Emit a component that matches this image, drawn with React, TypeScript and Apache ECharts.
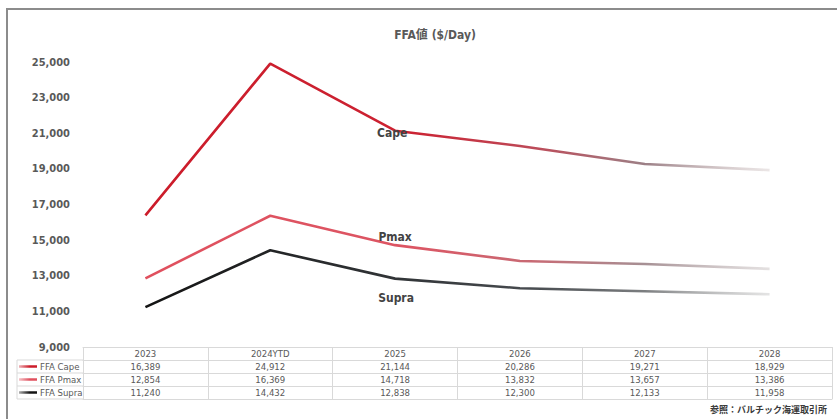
import { useEffect, useRef } from 'react';
import * as echarts from 'echarts';

// FFA forward values by year ($/Day)
const categories = ['2023', '2024YTD', '2025', '2026', '2027', '2028'];
const capeValues = [16389, 24912, 21144, 20286, 19271, 18929];
const pmaxValues = [12854, 16369, 14718, 13832, 13657, 13386];
const supraValues = [11240, 14432, 12838, 12300, 12133, 11958];
const seriesNames = ['FFA Cape', 'FFA Pmax', 'FFA Supra'];
const inlineNames = ['Cape', 'Pmax', 'Supra'];
const yMin = 9000;
const yMax = 25000;
const yStep = 2000;
const titleText = 'FFA値 ($/Day)';
const sourceText = '参照：バルチック海運取引所';

const FONT = '"DejaVu Sans Condensed", "DejaVu Sans", "Noto Sans CJK JP", sans-serif';
const CJK = '"Noto Sans CJK JP", "DejaVu Sans", sans-serif';
const TEXT = '#595959';
const TABLE_LINE = '#d9d9d9';
const ROW_H = 13;
const LABEL_INDEX = 2;

const fmt = (v: number) => v.toLocaleString('en-US');

const fade = (stops: [number, string][]) =>
  new echarts.graphic.LinearGradient(
    0, 0, 1, 0,
    stops.map(([offset, color]) => ({ offset, color }))
  );

const lineColors = [
  fade([[0, '#cc1c2a'], [0.42, '#cc2232'], [0.62, '#bd4a58'], [0.8, '#9c8086'], [1, 'rgba(215,205,205,0.5)']]),
  fade([[0, '#e0505e'], [0.42, '#dc5563'], [0.62, '#c86a74'], [0.8, '#a69094'], [1, 'rgba(210,205,205,0.6)']]),
  fade([[0, '#141414'], [0.42, '#333639'], [0.62, '#484c50'], [0.8, '#7c7e80'], [1, 'rgba(210,210,210,0.6)']]),
];

// legend swatches: lighter on the left, full colour on the right
const swatchColors = [
  fade([[0, 'rgba(204,28,42,0.35)'], [0.6, '#cc1c2a'], [1, '#cc1c2a']]),
  fade([[0, 'rgba(224,80,94,0.35)'], [0.6, '#e0505e'], [1, '#e0505e']]),
  fade([[0, 'rgba(20,20,20,0.35)'], [0.6, '#141414'], [1, '#141414']]),
];

const labelOffsets: [number, number][] = [[-3, 2], [0, -8], [1, 19]];

export default function App() {
  const ref = useRef<HTMLDivElement>(null);

  useEffect(() => {
    document.body.style.margin = '0';
    if (!ref.current) return;
    const chart = echarts.init(ref.current, null, { renderer: 'svg' });

    const valueRows = [capeValues, pmaxValues, supraValues];

    const series = valueRows.map((vals, s) => ({
      name: seriesNames[s],
      type: 'line',
      xAxisIndex: 0,
      yAxisIndex: 0,
      symbol: 'circle',
      symbolSize: 0,
      showSymbol: true,
      lineStyle: { width: 2.6, color: lineColors[s] },
      itemStyle: { color: swatchColors[s] },
      z: 5 - s,
      data: vals.map((v, i) =>
        i === LABEL_INDEX
          ? {
              value: v,
              label: {
                show: true,
                position: 'inside',
                offset: labelOffsets[s],
                formatter: inlineNames[s],
                fontFamily: FONT,
                fontWeight: 'bold',
                fontSize: 12,
                color: '#434343',
              },
            }
          : v
      ),
    }));

    const rowAxis = (offset: number, vals: number[] | null) => ({
      type: 'category',
      gridIndex: 0,
      position: 'bottom',
      offset,
      data: categories,
      boundaryGap: true,
      axisLine: { show: true, lineStyle: { color: TABLE_LINE, width: 1 } },
      axisTick: { show: false },
      splitLine: { show: false },
      axisLabel: {
        show: vals !== null,
        interval: 0,
        margin: ROW_H / 2,
        verticalAlign: 'middle',
        fontFamily: FONT,
        fontSize: 9.5,
        color: TEXT,
        formatter: (_: string, idx: number) => (vals ? fmt(vals[idx]) : ''),
      },
    });

    const tableTop = 347;
    const leftCellX = 17;
    const gridLeft = 83;

    const graphics: any[] = [
      // frame
      { type: 'line', shape: { x1: 7, y1: 8, x2: 7, y2: 419 }, style: { stroke: '#8c8c8c', lineWidth: 2 } },
      { type: 'line', shape: { x1: 6, y1: 9, x2: 837, y2: 9 }, style: { stroke: '#8c8c8c', lineWidth: 2 } },
      // row-label cells of the data table
      { type: 'line', shape: { x1: leftCellX, y1: tableTop + ROW_H, x2: leftCellX, y2: tableTop + ROW_H * 4 }, style: { stroke: TABLE_LINE, lineWidth: 1 } },
      ...[1, 2, 3, 4].map((r) => ({
        type: 'line',
        shape: { x1: leftCellX, y1: tableTop + ROW_H * r, x2: gridLeft, y2: tableTop + ROW_H * r },
        style: { stroke: TABLE_LINE, lineWidth: 1 },
      })),
      {
        type: 'text',
        right: 10,
        top: 405,
        style: { text: sourceText, font: `bold 9px ${CJK}`, fill: '#3a3a3a' },
      },
    ];

    chart.setOption({
      animation: false,
      backgroundColor: '#ffffff',
      title: {
        text: titleText,
        left: 430,
        top: 24,
        textAlign: 'center',
        textStyle: { fontFamily: FONT, fontWeight: 'bold', fontSize: 12, color: TEXT },
      },
      legend: {
        orient: 'vertical',
        left: 19,
        top: tableTop + ROW_H,
        itemGap: 0,
        itemWidth: 18,
        itemHeight: 2.5,
        icon: 'rect',
        padding: 0,
        selectedMode: false,
        data: seriesNames,
        textStyle: {
          fontFamily: FONT,
          fontSize: 9.5,
          color: TEXT,
          height: ROW_H,
          lineHeight: ROW_H,
          padding: [0, 0, 0, -2],
        },
      },
      grid: { left: gridLeft, right: 5, top: 62, bottom: 419 - tableTop, containLabel: false },
      xAxis: [
        {
          type: 'category',
          gridIndex: 0,
          data: categories,
          boundaryGap: true,
          axisLine: { show: true, lineStyle: { color: TABLE_LINE, width: 1 } },
          axisTick: { show: true, length: ROW_H * 4, lineStyle: { color: TABLE_LINE, width: 1 } },
          axisLabel: {
            interval: 0,
            margin: ROW_H / 2,
            verticalAlign: 'middle',
            fontFamily: FONT,
            fontSize: 9.5,
            color: TEXT,
          },
          splitLine: { show: false },
        },
        rowAxis(ROW_H, capeValues),
        rowAxis(ROW_H * 2, pmaxValues),
        rowAxis(ROW_H * 3, supraValues),
        rowAxis(ROW_H * 4, null),
      ],
      yAxis: {
        type: 'value',
        min: yMin,
        max: yMax,
        interval: yStep,
        axisLine: { show: false },
        axisTick: { show: false },
        splitLine: { show: false },
        axisLabel: {
          margin: 13,
          fontFamily: FONT,
          fontWeight: 'bold',
          fontSize: 11,
          color: TEXT,
          formatter: (v: number) => fmt(v),
        },
      },
      graphic: graphics,
      series,
    });

    return () => chart.dispose();
  }, []);

  return <div ref={ref} style={{ width: 837, height: 419 }} />;
}
